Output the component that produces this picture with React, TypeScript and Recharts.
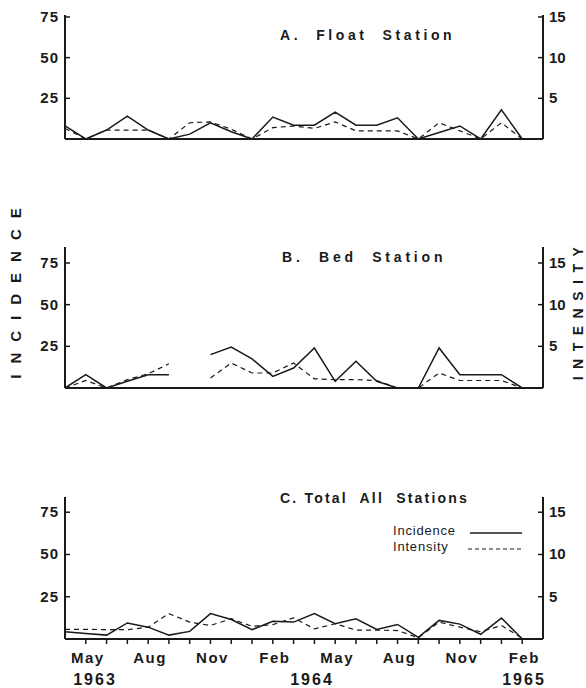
import { LineChart, Line, XAxis, YAxis } from "recharts";

// month positions Apr 1963 .. Mar 1965
const months = [
  "Apr 1963", "May 1963", "Jun 1963", "Jul 1963", "Aug 1963", "Sep 1963",
  "Oct 1963", "Nov 1963", "Dec 1963", "Jan 1964", "Feb 1964", "Mar 1964",
  "Apr 1964", "May 1964", "Jun 1964", "Jul 1964", "Aug 1964", "Sep 1964",
  "Oct 1964", "Nov 1964", "Dec 1964", "Jan 1965", "Feb 1965", "Mar 1965",
];
const labelledMonths = ["May", "Aug", "Nov", "Feb"];
const years = ["1963", "1964", "1965"];

const floatIncidence = [8, 0, 5.5, 14, 5.5, 0, 3, 10, 4.5, 0, 13.5, 8.5, 8.5, 16.5, 8.5, 8.5, 13, 0, 4, 8, 0, 18, 0];
const floatIntensity = [1.3, 0, 1.1, 1.1, 1.1, 0, 2.0, 2.1, 1.2, 0, 1.4, 1.6, 1.3, 2.1, 1.0, 1.0, 1.0, 0, 2.0, 1.0, 0, 2.0, 0];

const bedIncidence = [0, 8, 0, 4, 8, 8, null, 20, 24.5, 17.5, 7, 12, 24, 4, 16, 4, 0, 0, 24, 8, 8, 8, 0];
const bedIntensity = [0, 0.9, 0, 1.0, 1.7, 2.9, null, 1.2, 3.0, 1.8, 1.8, 3.0, 1.1, 1.0, 1.0, 0.9, 0, 0, 1.8, 0.9, 0.9, 0.9, 0];

const totalIncidence = [4.3, 3.3, 2.3, 9.5, 7, 2.3, 4.5, 15, 11.5, 5.5, 10.5, 10, 15, 9, 12, 5.7, 8.6, 1, 11, 8.8, 2.8, 12.4, 0];
const totalIntensity = [1.15, 1.15, 1.1, 1.1, 1.4, 3.0, 2.0, 1.6, 2.4, 1.5, 1.7, 2.5, 1.2, 1.8, 1.05, 1.05, 1.0, 0.15, 2.0, 1.4, 0.85, 1.6, 0.1];

const incidenceTicks = [25, 50, 75];
const intensityTicks = [5, 10, 15];

const INK = "#1a1a1a";
const FONT = "'Liberation Sans', Arial, sans-serif";

function rows(inc: (number | null)[], int: (number | null)[]) {
  return months.map((m, i) => ({
    idx: i,
    month: m,
    incidence: inc[i] ?? null,
    intensity: int[i] ?? null,
  }));
}

const LeftTick = (props: any) => {
  const { x, y, payload } = props;
  return (
    <g>
      <line x1={x + 5} x2={x + 10} y1={y} y2={y} stroke={INK} strokeWidth={1.5} />
      <text x={x - 1} y={y + 5} textAnchor="end" fontFamily={FONT} fontWeight="bold" fontSize={15} letterSpacing={1} fill={INK}>
        {payload.value}
      </text>
    </g>
  );
};

const RightTick = (props: any) => {
  const { x, y, payload } = props;
  return (
    <g>
      <line x1={x - 10} x2={x - 5} y1={y} y2={y} stroke={INK} strokeWidth={1.5} />
      <text x={x + 1} y={y + 5} textAnchor="start" fontFamily={FONT} fontWeight="bold" fontSize={15} fill={INK}>
        {payload.value}
      </text>
    </g>
  );
};

const MonthTick = (props: any) => {
  const { x, y, payload } = props;
  const short = months[payload.value]?.slice(0, 3);
  const show = payload.value > 0 && labelledMonths.includes(short);
  return (
    <g>
      {payload.value > 0 && payload.value < 23 && (
        <line x1={x} x2={x} y1={y} y2={y + 5} stroke={INK} strokeWidth={1.5} />
      )}
      {show && (
        <text x={x + 2} y={y + 24} textAnchor="middle" fontFamily={FONT} fontWeight="bold" fontSize={15} letterSpacing={1.5} fill={INK}>
          {short}
        </text>
      )}
    </g>
  );
};

type PanelProps = {
  top: number;
  height: number;
  marginTop: number;
  marginBottom: number;
  xHeight: number;
  incMax: number;
  inc: (number | null)[];
  int: (number | null)[];
  showMonths?: boolean;
};

function Panel({ top, height, marginTop, marginBottom, xHeight, incMax, inc, int, showMonths }: PanelProps) {
  const data = rows(inc, int);
  return (
    <div style={{ position: "absolute", left: 0, top }}>
      <LineChart width={586} height={height} data={data} margin={{ top: marginTop, right: 0, bottom: marginBottom, left: 0 }}>
        <XAxis
          dataKey="idx"
          type="number"
          domain={[0, 23]}
          ticks={months.map((_, i) => i)}
          interval={0}
          height={xHeight}
          axisLine={{ stroke: INK, strokeWidth: 2 }}
          tickLine={false}
          tickSize={0}
          tickMargin={0}
          tick={showMonths ? <MonthTick /> : false}
        />
        <YAxis
          yAxisId="left"
          orientation="left"
          width={65}
          domain={[0, incMax]}
          ticks={incidenceTicks}
          allowDataOverflow
          axisLine={{ stroke: INK, strokeWidth: 2 }}
          tickLine={false}
          tickSize={0}
          tickMargin={5}
          tick={<LeftTick />}
        />
        <YAxis
          yAxisId="right"
          orientation="right"
          width={43}
          domain={[0, incMax / 5]}
          ticks={intensityTicks}
          allowDataOverflow
          axisLine={{ stroke: INK, strokeWidth: 2 }}
          tickLine={false}
          tickSize={0}
          tickMargin={5}
          tick={<RightTick />}
        />
        <Line
          yAxisId="left"
          dataKey="incidence"
          type="linear"
          stroke={INK}
          strokeWidth={1.5}
          dot={false}
          isAnimationActive={false}
        />
        <Line
          yAxisId="right"
          dataKey="intensity"
          type="linear"
          stroke={INK}
          strokeWidth={1.2}
          strokeDasharray="5 4"
          dot={false}
          isAnimationActive={false}
        />
      </LineChart>
    </div>
  );
}

const textStyle = { fontFamily: FONT, fontWeight: "bold" as const, fill: INK, whiteSpace: "pre" as const };

export default function App() {
  return (
    <div style={{ position: "absolute", left: 0, top: 0, width: 586, height: 688, background: "#fff" }}>
      <Panel top={0} height={160} marginTop={15} marginBottom={1} xHeight={20} incMax={76.2} inc={floatIncidence} int={floatIntensity} />
      <Panel top={200} height={210} marginTop={47} marginBottom={2} xHeight={20} incMax={84.6} inc={bedIncidence} int={bedIntensity} />
      <Panel top={470} height={218} marginTop={27} marginBottom={4} xHeight={45} incMax={84} inc={totalIncidence} int={totalIntensity} showMonths />
      <svg width={586} height={688} style={{ position: "absolute", left: 0, top: 0, pointerEvents: "none" }}>
        <text x={280} y={40} fontSize={14} letterSpacing={3.6} style={textStyle}>{"A.  Float  Station"}</text>
        <text x={282} y={262} fontSize={14} letterSpacing={3.8} style={textStyle}>{"B.  Bed  Station"}</text>
        <text x={280} y={503} fontSize={14} letterSpacing={2.2} style={textStyle}>{"C. Total  All  Stations"}</text>

        <text x={393} y={535} fontSize={13} letterSpacing={0.8} style={{ ...textStyle, fontWeight: "normal" }}>Incidence</text>
        <line x1={470} x2={522} y1={533} y2={533} stroke={INK} strokeWidth={1.5} />
        <text x={393} y={551} fontSize={13} letterSpacing={0.8} style={{ ...textStyle, fontWeight: "normal" }}>Intensity</text>
        <line x1={468} x2={522} y1={549} y2={549} stroke={INK} strokeWidth={1.2} strokeDasharray="4 3" />

        <text x={95} y={685} fontSize={16} letterSpacing={2} textAnchor="middle" style={textStyle}>{years[0]}</text>
        <text x={312} y={685} fontSize={16} letterSpacing={2} textAnchor="middle" style={textStyle}>{years[1]}</text>
        <text x={524} y={685} fontSize={16} letterSpacing={2} textAnchor="middle" style={textStyle}>{years[2]}</text>

        <text x={0} y={0} fontSize={15} letterSpacing={11} textAnchor="middle" transform="translate(21 288) rotate(-90)" style={textStyle}>INCIDENCE</text>
        <text x={0} y={0} fontSize={14} letterSpacing={7.5} textAnchor="middle" transform="translate(583 310) rotate(-90)" style={textStyle}>INTENSITY</text>
      </svg>
    </div>
  );
}
